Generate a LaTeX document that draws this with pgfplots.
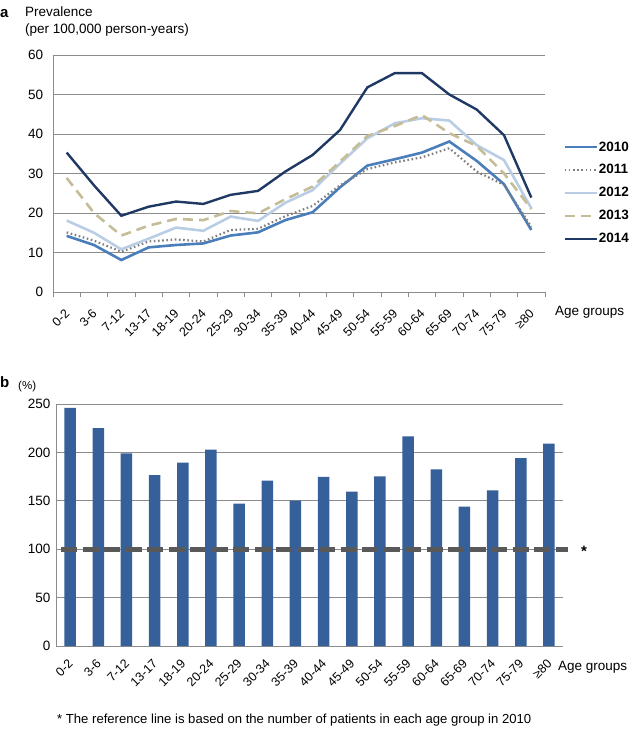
\documentclass[border=0pt]{standalone}
\usepackage{fontspec}
\setmainfont{Liberation Sans}
\usepackage{pgfplots}
\usepackage{pgfplotstable}
\pgfplotsset{compat=1.18}

\definecolor{c2010}{HTML}{4A7EBB}
\definecolor{c2011}{HTML}{7F7F7F}
\definecolor{c2012}{HTML}{B9CDE5}
\definecolor{c2013}{HTML}{C4BD97}
\definecolor{c2014}{HTML}{1F3864}
\definecolor{barblue}{HTML}{36609A}
\definecolor{refgray}{HTML}{595959}
\definecolor{axgray}{HTML}{8C8C8C}

% prevalence per 100,000 person-years, by age group and year
\pgfplotstableread{
x  y10   y11   y12   y13   y14   pct
0  14.2  15.1  18.1  28.9  35.3  246
1  11.9  13.0  15.0  20.0  27.0  225
2  8.1   10.2  10.8  14.3  19.3  199
3  11.3  12.8  13.5  16.8  21.6  176.6
4  11.9  13.3  16.3  18.5  22.9  189.4
5  12.3  12.8  15.5  18.2  22.3  202.8
6  14.3  15.7  19.1  20.5  24.6  147
7  15.1  16.0  18.0  19.9  25.6  170.8
8  18.2  19.2  22.6  23.5  30.5  150.1
9  20.2  21.8  25.8  26.7  34.7  174.6
10 26.5  27.0  32.5  33.0  41.0  159.4
11 32.0  31.1  38.9  39.5  51.8  175.3
12 33.6  32.8  42.7  42.0  55.4  216.6
13 35.3  34.1  44.0  44.8  55.4  182.5
14 38.1  36.4  43.4  40.2  50.0  143.9
15 33.2  30.5  37.2  37.0  46.2  160.8
16 27.3  27.1  33.4  30.0  39.7  194.2
17 15.7  16.5  21.2  21.0  23.9  209.0
}\agedata

\pgfplotsset{
  common/.style={
    scale only axis,
    xmin=-0.5, xmax=17.5,
    xtick={0,...,17},
    xticklabels={0-2,3-6,7-12,13-17,18-19,20-24,25-29,30-34,35-39,40-44,45-49,50-54,55-59,60-64,65-69,70-74,75-79,≥80},
    major x tick style={draw=none},
    axis x line*=bottom,
    axis y line*=left,
    axis line style={axgray, line width=0.8pt},
    ymajorgrids,
    grid style={axgray, line width=0.8pt},
    major y tick style={draw=none},
    tick label style={font=\fontsize{13.5}{14}\selectfont},
    xticklabel style={yshift=-13pt, xshift=3pt, rotate=45, anchor=east, font=\fontsize{12.5}{13}\selectfont},
    yticklabel style={xshift=-2pt},
    /pgf/number format/assume math mode=true,
    clip=false,
  },
}

\begin{document}
\begin{tikzpicture}[x=1pt,y=1pt]
\path[use as bounding box] (0,0) rectangle (638,-731);

% panel a
\begin{axis}[common,
  at={(53pt,-292pt)}, anchor=south west,
  width=492pt, height=237pt,
  ymin=0, ymax=60, ytick={0,10,...,60},
  minor xtick={-0.5,0.5,...,17.5},
  minor x tick style={axgray, line width=0.8pt},
  minor tick length=5pt,
  tick align=outside,
  legend style={at={(axis description cs:1.0366,0.418)}, anchor=west,
    draw=none, fill=none, row sep=12pt, inner sep=0pt,
    font=\bfseries\fontsize{13.5}{14}\selectfont,
    nodes={inner xsep=1pt, inner ysep=0pt}},
  legend cell align=left,
  legend image code/.code={\draw[#1] (0pt,0pt) -- (32pt,0pt);},
]
\addplot[c2010, line width=2.6pt] table[x=x, y=y10] {\agedata};
\addlegendentry{2010}
\addplot[c2011, line width=2.2pt, dash pattern=on 1.6pt off 2.6pt] table[x=x, y=y11] {\agedata};
\addlegendentry{2011}
\addplot[c2012, line width=2.6pt] table[x=x, y=y12] {\agedata};
\addlegendentry{2012}
\addplot[c2013, line width=2.6pt, dash pattern=on 10pt off 6pt] table[x=x, y=y13] {\agedata};
\addlegendentry{2013}
\addplot[c2014, line width=2.4pt] table[x=x, y=y14] {\agedata};
\addlegendentry{2014}
\end{axis}

\node[anchor=base west, inner sep=0pt, font=\bfseries\fontsize{15}{16}\selectfont] at (0,-17) {a};
\node[anchor=base west, inner sep=0pt, font=\fontsize{13.5}{14}\selectfont] at (25,-16.5) {Prevalence};
\node[anchor=base west, inner sep=0pt, font=\fontsize{13.5}{14}\selectfont] at (25,-33) {(per 100,000 person-years)};
\node[anchor=west, inner sep=0pt, font=\fontsize{13.5}{14}\selectfont] at (555,-312) {Age groups};

% panel b
\begin{axis}[common,
  at={(56pt,-646pt)}, anchor=south west,
  width=507pt, height=242pt,
  ymin=0, ymax=250, ytick={0,50,...,250},
]
\addplot[ybar, bar width=11.5pt, fill=barblue, draw=none] table[x=x, y=pct] {\agedata};
\addplot[refgray, line width=5pt, dash pattern=on 16pt off 5.5pt] coordinates {(-0.32,100) (17.68,100)};
\end{axis}

\node[anchor=base west, inner sep=0pt, font=\bfseries\fontsize{15}{16}\selectfont] at (0,-387) {b};
\node[anchor=base west, inner sep=0pt, font=\fontsize{11.5}{12}\selectfont] at (18,-389) {(\%)};
\node[anchor=center, inner sep=0pt, font=\bfseries\fontsize{15}{16}\selectfont] at (584,-551) {*};
\node[anchor=west, inner sep=0pt, font=\fontsize{13.5}{14}\selectfont] at (558,-667) {Age groups};
\node[anchor=west, inner sep=0pt, font=\fontsize{13.1}{14}\selectfont] at (57,-720) {* The reference line is based on the number of patients in each age group in 2010};
\end{tikzpicture}
\end{document}
